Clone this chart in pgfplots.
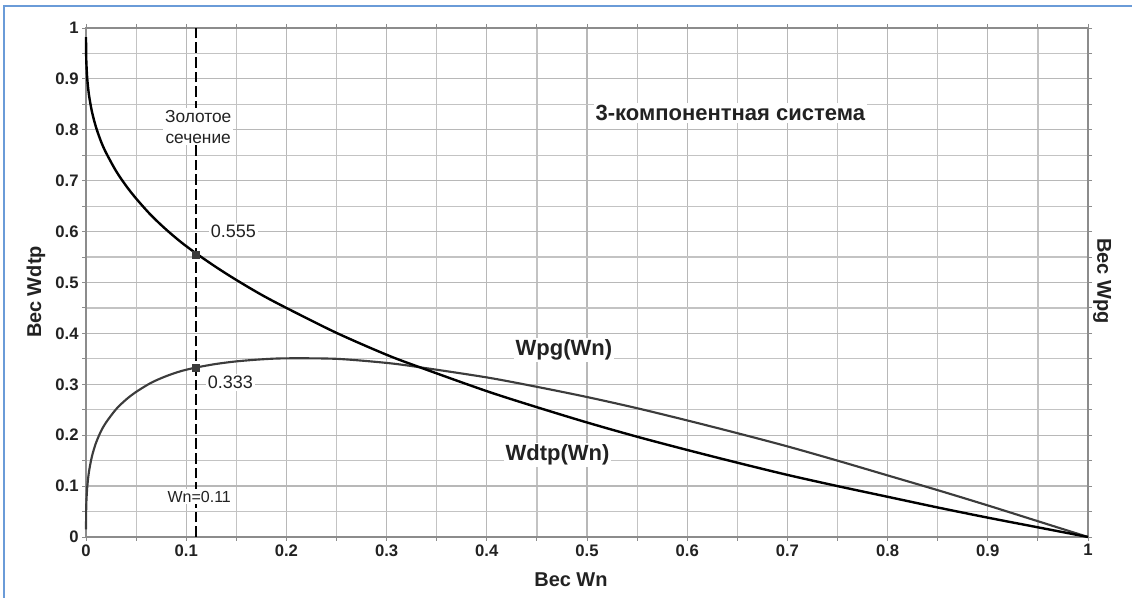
\documentclass[border=0pt]{standalone}
\usepackage{pgfplots}
\pgfplotsset{compat=1.18}
\usepackage{pgfplotstable}
\usepackage{fontspec}
\setmainfont{Liberation Sans}
\definecolor{gridgray}{HTML}{B8B8B8}
\definecolor{axgray}{HTML}{8C8C8C}
\definecolor{framebl}{HTML}{6A9BD8}
\definecolor{pgcol}{HTML}{3C3C3C}
\definecolor{txt}{HTML}{222222}

\pgfplotstableread{
x y
0 0.982
0.0002 0.944
0.0005 0.926
0.0013 0.899
0.003 0.868
0.006 0.835
0.01 0.805
0.015 0.777
0.02 0.755
0.03 0.719
0.04 0.690
0.05 0.665
0.065 0.632
0.08 0.604
0.095 0.579
0.11 0.557
0.13 0.530
0.15 0.505
0.175 0.476
0.2 0.450
0.25 0.401
0.3 0.358
0.333 0.3335
0.4 0.2865
0.45 0.255
0.5 0.225
0.55 0.197
0.6 0.171
0.65 0.146
0.7 0.122
0.75 0.100
0.8 0.079
0.85 0.058
0.9 0.038
0.95 0.019
1 0
}\wdtp

\pgfplotstableread{
x y
0 0.015
0.0002 0.056
0.0005 0.074
0.0013 0.0994
0.003 0.1286
0.006 0.159
0.01 0.185
0.015 0.208
0.02 0.225
0.03 0.251
0.04 0.270
0.05 0.285
0.065 0.303
0.08 0.316
0.095 0.326
0.11 0.333
0.13 0.340
0.15 0.345
0.175 0.349
0.2 0.351
0.25 0.350
0.3 0.342
0.333 0.3335
0.4 0.3135
0.45 0.295
0.5 0.275
0.55 0.253
0.6 0.229
0.65 0.204
0.7 0.178
0.75 0.150
0.8 0.121
0.85 0.092
0.9 0.062
0.95 0.031
1 0
}\wpg

\pgfplotstableread{
x y
0.11 0.555
0.11 0.333
}\marks

\pgfplotstableread{
x y
0.11 0
0.11 1
}\vline

\begin{document}
\begin{tikzpicture}
\useasboundingbox (0,0) rectangle (849pt,448.5pt);
\draw[framebl, line width=1.1pt] (3pt,0) -- (3pt,444pt) -- (849pt,444pt);
\begin{axis}[
  at={(64.5pt,45.75pt)}, anchor=south west,
  scale only axis, width=751.5pt, height=381.75pt,
  xmin=0, xmax=1, ymin=0, ymax=1,
  xtick={0,0.1,...,1.0}, ytick={0,0.1,...,1.0},
  minor tick num=1,
  grid=both,
  major grid style={gridgray, line width=0.9pt},
  minor grid style={gridgray!85, line width=0.9pt},
  axis line style={axgray, line width=0.9pt},
  tick style={axgray, line width=0.7pt},
  tick align=outside,
  major tick length=3pt, minor tick length=3pt,
  xticklabels={0,0.1,0.2,0.3,0.4,0.5,0.6,0.7,0.8,0.9,1},
  yticklabels={0,0.1,0.2,0.3,0.4,0.5,0.6,0.7,0.8,0.9,1},
  ticklabel style={font=\fontsize{12.5}{14}\selectfont\bfseries, text=txt},
  xticklabel style={yshift=1pt},
  yticklabel style={xshift=1pt},
  clip=false,
]
\addplot[black, line width=1.1pt, dash pattern=on 8pt off 3pt] table[x=x,y=y] {\vline};
\addplot[pgcol, line width=1.6pt, smooth, tension=0.5] table[x=x,y=y] {\wpg};
\addplot[black, line width=1.8pt, smooth, tension=0.5] table[x=x,y=y] {\wdtp};
\addplot[only marks, mark=square*, mark size=2.6pt, pgcol] table[x=x,y=y] {\marks};

\node[fill=white, inner sep=1.5pt, align=center, text=txt, font=\fontsize{13}{15.5}\selectfont] at (axis cs:0.112,0.806) {Золотое\\сечение};
\node[fill=white, inner sep=1.5pt, text=txt, font=\fontsize{12}{13}\selectfont] at (axis cs:0.113,0.079) {Wn=0.11};
\node[fill=white, inner sep=1.5pt, text=txt, font=\fontsize{13.5}{15}\selectfont] at (axis cs:0.147,0.601) {0.555};
\node[fill=white, inner sep=1.5pt, text=txt, font=\fontsize{13.5}{15}\selectfont] at (axis cs:0.144,0.303) {0.333};
\node[fill=white, inner sep=1.5pt, text=txt, font=\fontsize{16.5}{18}\selectfont\bfseries] at (axis cs:0.477,0.367) {Wpg(Wn)};
\node[fill=white, inner sep=1.5pt, text=txt, font=\fontsize{16.5}{18}\selectfont\bfseries] at (axis cs:0.4706,0.161) {Wdtp(Wn)};
\node[fill=white, inner sep=1.5pt, text=txt, font=\fontsize{16.5}{18}\selectfont\bfseries] at (axis cs:0.643,0.833) {3-компонентная система};
\end{axis}
\node[text=txt, font=\fontsize{15}{17}\selectfont\bfseries] at (428.25pt,13.5pt) {Вес Wn};
\node[text=txt, font=\fontsize{15}{17}\selectfont\bfseries, rotate=90] at (27pt,229.5pt) {Вес Wdtp};
\node[text=txt, font=\fontsize{15}{17}\selectfont\bfseries, rotate=-90] at (826.5pt,237.75pt) {Вес Wpg};
\end{tikzpicture}
\end{document}
